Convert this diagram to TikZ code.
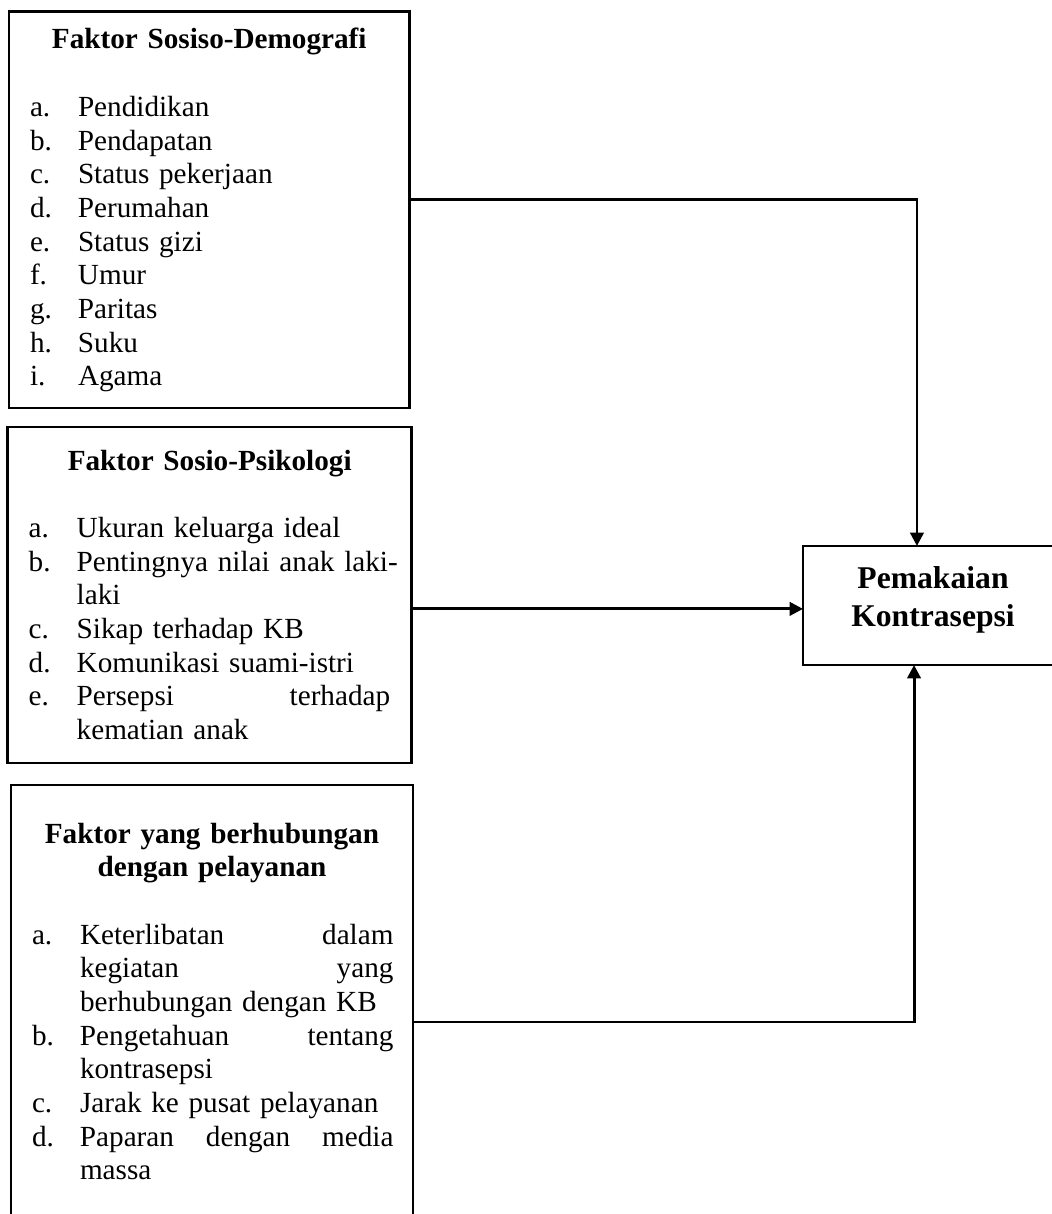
\documentclass[tikz,border=0pt]{standalone}
\usepackage{fontspec}
\setmainfont{Liberation Serif}
\usetikzlibrary{arrows.meta}
\newdimen\pxu \pxu=0.411pt
\newcommand{\judul}[1]{{\centering\bfseries #1\par}\vspace{\baselineskip}}
\newcommand{\daftar}[1]{\leftskip=69\pxu\rightskip=#1\pxu\parindent=0pt\hyphenpenalty=10000\tolerance=9999}
\newcommand{\itm}[2]{\par\noindent\llap{\makebox[48\pxu][l]{#1}}#2}

\begin{document}
\begin{tikzpicture}[x=0.411pt,y=-0.411pt,
    kotak/.style={draw,line width=1.2pt,inner sep=0pt,outer sep=0pt,anchor=north west,
        font=\fontsize{12}{13.85}\selectfont},
    link/.style={line width=1.2pt,-{Triangle[length=5.5pt,width=5.5pt]}}]
    \useasboundingbox (0,0) rectangle (1051,1214);

    \node[kotak,text width=400.5\pxu,text height=37.5\pxu,text depth=359\pxu] (demo) at (9,11.5) {%
        \judul{Faktor Sosiso-Demografi}\daftar{18}
        \itm{a.}{Pendidikan}
        \itm{b.}{Pendapatan}
        \itm{c.}{Status pekerjaan}
        \itm{d.}{Perumahan}
        \itm{e.}{Status gizi}
        \itm{f.}{Umur}
        \itm{g.}{Paritas}
        \itm{h.}{Suku}
        \itm{i.}{Agama}\par};

    \node[kotak,text width=404\pxu,text height=43\pxu,text depth=293\pxu] (psiko) at (7.7,427) {%
        \judul{Faktor Sosio-Psikologi}\daftar{21.5}
        \itm{a.}{Ukuran keluarga ideal}
        \itm{b.}{\makebox[313.5\pxu][s]{Pentingnya nilai anak laki-}\\laki}
        \itm{c.}{Sikap terhadap KB}
        \itm{d.}{Komunikasi suami-istri}
        \itm{e.}{Persepsi\hfill terhadap\\kematian anak}\par};

    \node[kotak,text width=402\pxu,text height=58\pxu,text depth=397\pxu] (layan) at (11,785) {%
        \judul{Faktor yang berhubungan\\dengan pelayanan}\daftar{19.5}
        \itm{a.}{Keterlibatan\hfill dalam\\kegiatan\hfill yang\\berhubungan dengan KB}
        \itm{b.}{Pengetahuan\hfill tentang\\kontrasepsi}
        \itm{c.}{Jarak ke pusat pelayanan}
        \itm{d.}{Paparan\hfill dengan\hfill media\\massa}\par};

    \node[kotak,text width=260\pxu,text height=42\pxu,text depth=77\pxu,align=center,
        font=\fontsize{13}{16}\selectfont\bfseries] (pakai) at (803,546) {Pemakaian\\Kontrasepsi};

    \coordinate (tengah) at ([yshift=-1.4pt]pakai.west);
    \draw[link] ([yshift=4.2pt]demo.east) -| ([xshift=-6.6pt]pakai.north);
    \draw[link] (psiko.east |- tengah) -- (tengah);
    \draw[link] ([yshift=-3.9pt]layan.east) -| ([xshift=-7.8pt]pakai.south);
\end{tikzpicture}
\end{document}
